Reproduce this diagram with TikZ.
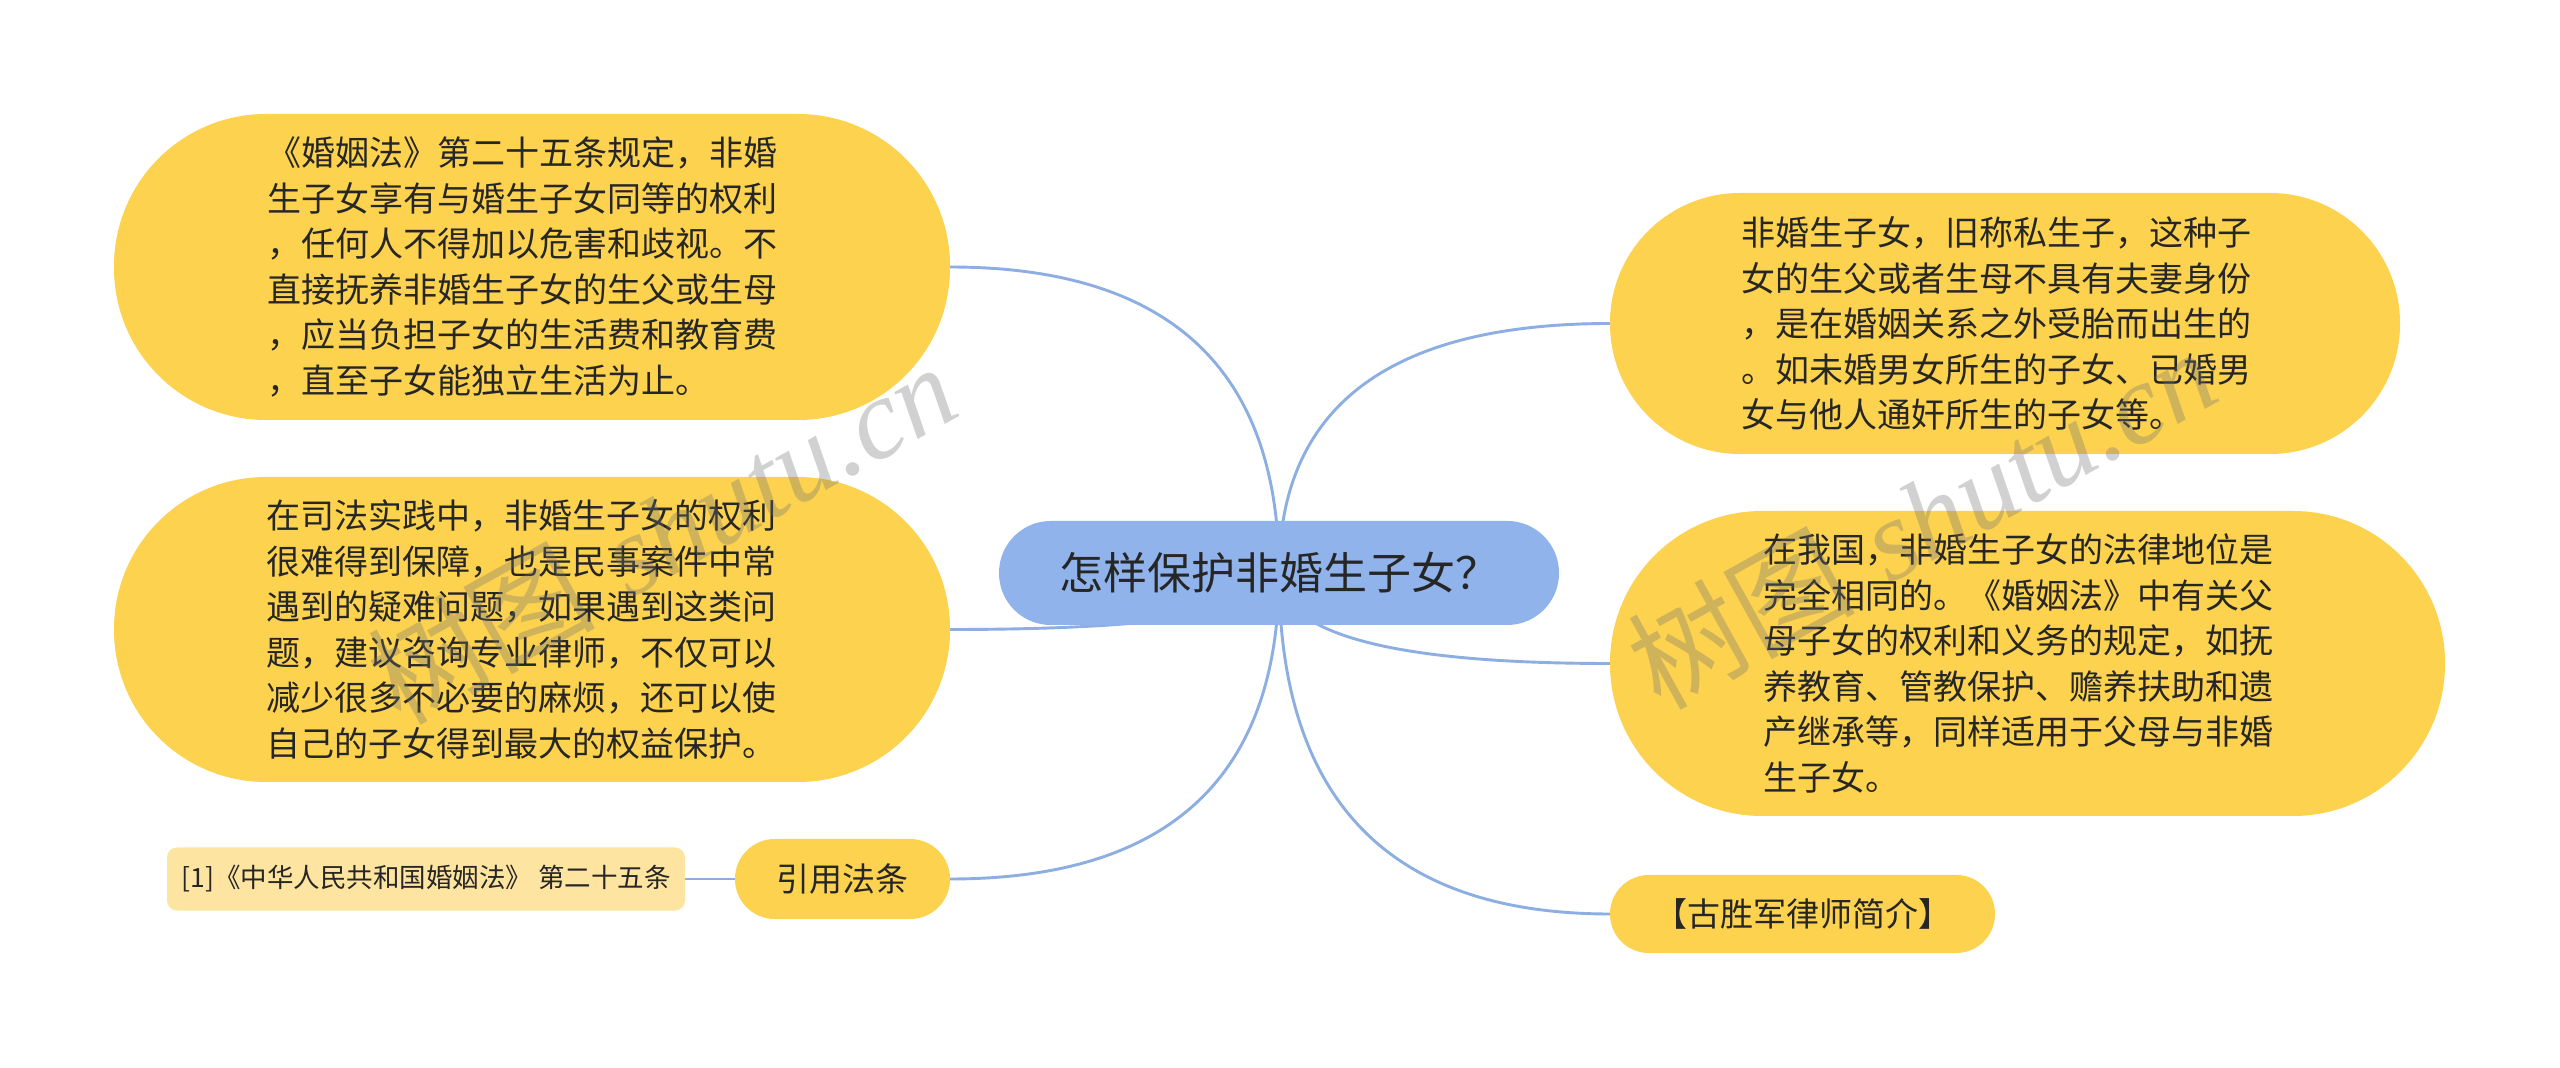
\documentclass[tikz,border=0pt]{standalone}
\usepackage{fontspec}
\newfontfamily\cjk{Noto Sans CJK SC}
\newfontfamily\wmserif{Liberation Serif}
\definecolor{leafyellow}{HTML}{FCD24F}
\definecolor{reflight}{HTML}{FDE4A0}
\definecolor{rootblue}{HTML}{8FB3EA}
\definecolor{linkblue}{HTML}{8CAEE2}
\definecolor{txt}{HTML}{262626}
\pgfdeclarelayer{bg}
\pgfsetlayers{bg,main}
\begin{document}
\begin{tikzpicture}[x=0.5pt,y=-0.5pt,
  every node/.style={inner sep=0pt, outer sep=0pt},
  bigleaf/.style={fill=leafyellow, text=txt, align=left, font=\cjk\fontsize{17pt}{22.75pt}\selectfont},
  pill/.style={fill=leafyellow, text=txt, font=\cjk\fontsize{16.5pt}{20pt}\selectfont},
  rootnode/.style={fill=rootblue, text=txt, font=\cjk\fontsize{22pt}{26pt}\selectfont, minimum width=280pt, minimum height=52pt, rounded corners=25.9pt},
  refnode/.style={fill=reflight, text=txt, font=\cjk\fontsize{13.25pt}{16pt}\selectfont, rounded corners=5pt},
  conn/.style={draw=linkblue, line width=1.45pt},
  wm/.style={text=black!55, text opacity=0.32, font=\fontsize{57pt}{62pt}\selectfont, rotate=29, anchor=base west, inner sep=0pt}
]
\useasboundingbox (0,0) rectangle (2560,1068);

% root
\node[rootnode] (root) at (1279,573) {怎样保护非婚生子女？};

% left nodes
\node[bigleaf, minimum width=418pt, minimum height=153pt, rounded corners=76pt, text width=265pt] (tl) at (532,267)
{《婚姻法》第二十五条规定，非婚\\生子女享有与婚生子女同等的权利\\，任何人不得加以危害和歧视。不\\直接抚养非婚生子女的生父或生母\\，应当负担子女的生活费和教育费\\，直至子女能独立生活为止。};

\node[bigleaf, minimum width=418pt, minimum height=152.5pt, rounded corners=76pt, text width=266pt] (ml) at (532,629.5)
{在司法实践中，非婚生子女的权利\\很难得到保障，也是民事案件中常\\遇到的疑难问题，如果遇到这类问\\题，建议咨询专业律师，不仅可以\\减少很多不必要的麻烦，还可以使\\自己的子女得到最大的权益保护。};

\node[pill, minimum width=107.5pt, minimum height=40pt, rounded corners=19.9pt] (cite) at (842.5,879) {引用法条};

\node[refnode, minimum width=259pt, minimum height=31.5pt] (ref) at (426,879) {[1]《中华人民共和国婚姻法》 第二十五条};

% right nodes
\node[bigleaf, minimum width=395pt, minimum height=130.5pt, rounded corners=65pt, text width=264pt] (tr) at (2005,323.5)
{非婚生子女，旧称私生子，这种子\\女的生父或者生母不具有夫妻身份\\，是在婚姻关系之外受胎而出生的\\。如未婚男女所生的子女、已婚男\\女与他人通奸所生的子女等。};

\node[bigleaf, minimum width=417.5pt, minimum height=152.5pt, rounded corners=76pt, text width=264.5pt] (mr) at (2027.5,663.5)
{在我国，非婚生子女的法律地位是\\完全相同的。《婚姻法》中有关父\\母子女的权利和义务的规定，如抚\\养教育、管教保护、赡养扶助和遗\\产继承等，同样适用于父母与非婚\\生子女。};

\node[pill, minimum width=192.5pt, minimum height=39pt, rounded corners=19.4pt] (gu) at (1802.5,914) {【古胜军律师简介】};

% connectors
\begin{pgfonlayer}{bg}
\fill[white] (0,0) rectangle (2560,1068);
\draw[conn] (root.center) .. controls (1279,369) and (1169.3,267) .. (tl.east);
\draw[conn] (root.center) .. controls (1279,610.7) and (1169.3,629.5) .. (ml.east);
\draw[conn] (root.center) .. controls (1279,777) and (1169.3,879) .. (cite.east);
\draw[conn] (root.center) .. controls (1279,406.7) and (1389.3,323.5) .. (tr.west);
\draw[conn] (root.center) .. controls (1279,633.3) and (1389.3,663.5) .. (mr.west);
\draw[conn] (root.center) .. controls (1279,800.3) and (1389.3,914) .. (gu.west);
\draw[conn] (cite.west) -- (ref.east);
\end{pgfonlayer}

% watermarks
\node[wm] (wm1) at (400,727) {{\cjk 树图} {\wmserif\itshape shutu.cn}};
\node[wm] (wm2) at (1660,712) {{\cjk 树图} {\wmserif\itshape shutu.cn}};
\end{tikzpicture}
\end{document}
